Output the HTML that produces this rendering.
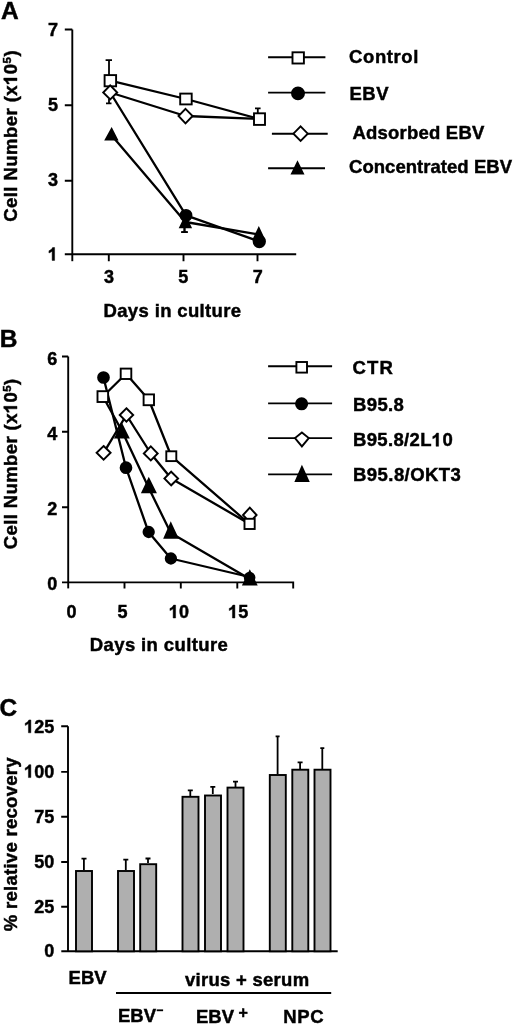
<!DOCTYPE html>
<html><head><meta charset="utf-8"><style>
html,body{margin:0;padding:0;background:#fff;width:520px;height:1025px;overflow:hidden}
svg{display:block}
text{font-family:"Liberation Sans",sans-serif;font-weight:bold;fill:#000;stroke:#000;stroke-width:0.45px}
svg{filter:grayscale(1) blur(0.35px)}
.h1{fill:transparent;stroke:none}
.g1{fill:#000;stroke:#000}
</style></head><body>
<svg width="520" height="1025" viewBox="0 0 520 1025">
<rect width="520" height="1025" fill="#fff"></rect>
<!-- ============ PANEL A ============ -->
<text x="1" y="18.6" font-size="24.5">A</text>
<g stroke="#000" stroke-width="1.9" fill="none">
  <path d="M72.3 29.5V261.2"></path>
  <path d="M64.8 29.5H72.3M64.8 105.2H72.3M64.8 180.8H72.3M64.8 254.3H296.2"></path>
  <path d="M108.8 254.3V261.2M183.5 254.3V261.2M257.5 254.3V261.2"></path>
</g>
<g font-size="18" text-anchor="end">
  <text x="58" y="36.3">7</text>
  <text x="58" y="111.3">5</text>
  <text x="58" y="186.4">3</text>
  <text x="58" y="260.4"><tspan class="h1">1</tspan></text><path d="M368 0H231V515Q156 445 54 411V535Q108 553 171 602Q234 650 257 716H368Z" class="g1" transform="translate(47.98,260.40) scale(0.0180,-0.0180)" stroke-width="25.0"></path>
</g>
<g font-size="18" text-anchor="middle">
  <text x="109" y="282.8">3</text>
  <text x="183.3" y="282.8">5</text>
  <text x="257.7" y="282.8">7</text>
</g>
<text x="103.5" y="317.3" font-size="18.5" textLength="137.6" lengthAdjust="spacing">Days in culture</text>
<text transform="translate(17,221.8) rotate(-90)" font-size="18.5" textLength="171.4" lengthAdjust="spacing">Cell Number (x<tspan class="h1">1</tspan>0<tspan font-size="11.5" dy="-6.3">5</tspan><tspan dy="6.3">)</tspan></text><path d="M368 0H231V515Q156 445 54 411V535Q108 553 171 602Q234 650 257 716H368Z" class="g1" transform="translate(17,221.8) rotate(-90) translate(136.89,0.00) scale(0.0185,-0.0185)" stroke-width="24.3"></path>
<!-- data lines A -->
<g stroke="#000" stroke-width="2.3" fill="none" stroke-linejoin="round">
  <polyline points="110.3,80.7 186,99 259.5,119"></polyline>
  <polyline points="110.2,92.5 185.5,116 259.5,119"></polyline>
  <polyline points="110.2,92.5 186,215.4 259.3,241.5"></polyline>
  <polyline points="111.3,135 185.4,222 258.8,234.5"></polyline>
</g>
<!-- error bars A -->
<g stroke="#000" stroke-width="1.8" fill="none">
  <path d="M109 75V60.2M105.6 60.2H112"></path>
  <path d="M109 99V103.3M106 103.3H111.5"></path>
  <path d="M184.5 226V232.1M181.3 232.1H187.7"></path>
  <path d="M257.8 113V108.3M255 108.3H260.6"></path>
</g>
<!-- markers A -->
<g stroke="#000" stroke-width="1.9">
  <rect x="104.6" y="75.1" width="11.5" height="11.2" fill="#fff"></rect>
  <path d="M110.2 85.4L117.2 92.5L110.2 99.4L103.2 92.5Z" fill="#fff"></path>
  <path d="M111.6 129L117 139.5H105.8Z" fill="#000"></path>
  <rect x="180.2" y="93.6" width="11.5" height="10.8" fill="#fff"></rect>
  <path d="M185.5 108.8L192.6 116L185.5 123.3L178.5 116Z" fill="#fff"></path>
  <path d="M185.4 216.5L190.6 227.4H180.2Z" fill="#000"></path>
  <circle cx="186" cy="215.4" r="5.5" fill="#000"></circle>
  <path d="M184.5 226V232M181.3 232.1H187.7" fill="none"></path>
  <rect x="254" y="113.3" width="11" height="11.6" fill="#fff"></rect>
  <path d="M258.8 228.2L264 239.3H253.6Z" fill="#000"></path>
  <circle cx="259.3" cy="241.5" r="5.7" fill="#000"></circle>
</g>
<!-- legend A -->
<g stroke="#000" stroke-width="1.9" fill="none">
  <path d="M268.1 57.3H325.4M268.1 92.6H325.4M271.9 133.7H327.7M268.1 168.3H325"></path>
</g>
<g stroke="#000" stroke-width="1.9">
  <rect x="292.5" y="52.3" width="11.4" height="11.2" fill="#fff"></rect>
  <circle cx="298" cy="93.4" r="6" fill="#000"></circle>
  <path d="M300.6 126.3L307.8 133.7L300.6 141L293.4 133.7Z" fill="#fff"></path>
  <path d="M297.5 162.3L303 173.6H292Z" fill="#000"></path>
</g>
<g font-size="18.5">
  <text x="349" y="62.7" textLength="69.4" lengthAdjust="spacing">Control</text>
  <text x="349.5" y="99.6" textLength="39" lengthAdjust="spacing">EBV</text>
  <text x="352.5" y="139.2" textLength="131.8" lengthAdjust="spacing">Adsorbed EBV</text>
  <text x="349" y="172.9" textLength="163" lengthAdjust="spacing">Concentrated EBV</text>
</g>

<!-- ============ PANEL B ============ -->
<text x="-0.3" y="346.6" font-size="24.5">B</text>
<g stroke="#000" stroke-width="1.9" fill="none">
  <path d="M68.2 356.5V588.4"></path>
  <path d="M62 356.5H68.2M62 431.8H68.2M62 507.2H68.2M62 582.4H293.2V588.4"></path>
  <path d="M124.5 582.4V588.4M180.8 582.4V588.4M237.3 582.4V588.4"></path>
</g>
<g font-size="18" text-anchor="end">
  <text x="57.3" y="364.6">6</text>
  <text x="57.3" y="440.4">4</text>
  <text x="57.3" y="515.4">2</text>
  <text x="57.3" y="589.6">0</text>
</g>
<g font-size="18" text-anchor="middle">
  <text x="71.6" y="618">0</text>
  <text x="122.6" y="618">5</text>
  <text x="179" y="618"><tspan class="h1">1</tspan>0</text><path d="M368 0H231V515Q156 445 54 411V535Q108 553 171 602Q234 650 257 716H368Z" class="g1" transform="translate(168.98,618.00) scale(0.0180,-0.0180)" stroke-width="25.0"></path>
  <text x="238.3" y="618"><tspan class="h1">1</tspan>5</text><path d="M368 0H231V515Q156 445 54 411V535Q108 553 171 602Q234 650 257 716H368Z" class="g1" transform="translate(228.28,618.00) scale(0.0180,-0.0180)" stroke-width="25.0"></path>
</g>
<text x="89.8" y="651.2" font-size="18.5" textLength="138" lengthAdjust="spacing">Days in culture</text>
<text transform="translate(17,549.2) rotate(-90)" font-size="18.5" textLength="170.4" lengthAdjust="spacing">Cell Number (x<tspan class="h1">1</tspan>0<tspan font-size="11.5" dy="-6.3">5</tspan><tspan dy="6.3">)</tspan></text><path d="M368 0H231V515Q156 445 54 411V535Q108 553 171 602Q234 650 257 716H368Z" class="g1" transform="translate(17,549.2) rotate(-90) translate(136.07,0.00) scale(0.0185,-0.0185)" stroke-width="24.3"></path>
<g stroke="#000" stroke-width="2.3" fill="none" stroke-linejoin="round">
  <polyline points="102.9,396.5 126,373.8 148.8,399.8 171.3,456.2 249.5,524"></polyline>
  <polyline points="103.5,377.5 126,467.7 148.5,532 170.8,558.5 249.5,577"></polyline>
  <polyline points="103.6,452.8 126.4,415 150.8,453.5 171.2,478.5 249.7,524"></polyline>
  <polyline points="102.9,396.5 122,431 148.8,488 170.8,533 249.8,579"></polyline>
</g>
<g stroke="#000" stroke-width="1.9">
  <circle cx="103.5" cy="377.5" r="5.4" fill="#000"></circle>
  <rect x="97.5" y="391.2" width="10.6" height="10.8" fill="#fff"></rect>
  <rect x="120.7" y="368.6" width="10.6" height="10.4" fill="#fff"></rect>
  <rect x="143.6" y="394.4" width="10.4" height="10.8" fill="#fff"></rect>
  <path d="M103.6 446L110.6 452.8L103.6 459.6L96.6 452.8Z" fill="#fff"></path>
  <path d="M122 425L128.3 437.5H115.5Z" fill="#000"></path>
  <path d="M126.4 408.3L133.2 415L126.4 421.7L119.7 415Z" fill="#fff"></path>
  <circle cx="126" cy="467.7" r="5.4" fill="#000"></circle>
  <path d="M150.8 446.4L157.7 453.5L150.8 460.4L143.8 453.5Z" fill="#fff"></path>
  <path d="M148.8 479L155.4 492.3H142.4Z" fill="#000"></path>
  <circle cx="148.7" cy="532" r="5.2" fill="#000"></circle>
  <rect x="166.3" y="451.3" width="10" height="9.8" fill="#fff"></rect>
  <path d="M171.2 471.7L178.1 478.5L171.2 485.3L164.4 478.5Z" fill="#fff"></path>
  <path d="M170.8 523.6L177.4 537.8H164.6Z" fill="#000"></path>
  <circle cx="170.9" cy="558.5" r="5.2" fill="#000"></circle>
  <path d="M249.8 507.6L256.6 515L249.8 522.4L243 515Z" fill="#fff"></path>
  <rect x="244.5" y="518.8" width="10.2" height="10.2" fill="#fff"></rect>
  <path d="M249.8 571.5L256.2 584.6H243.4Z" fill="#000"></path>
  <circle cx="249.6" cy="577.6" r="4.9" fill="#000"></circle>
</g>
<!-- legend B -->
<g stroke="#000" stroke-width="1.9" fill="none">
  <path d="M268.1 366.2H332.1M268.1 403.4H332.1M268.1 438.1H332.1M268.1 474.4H332.1"></path>
</g>
<g stroke="#000" stroke-width="1.9">
  <rect x="296.4" y="362" width="10.6" height="10.6" fill="#fff"></rect>
  <circle cx="301.6" cy="403.8" r="5.6" fill="#000"></circle>
  <path d="M301.9 432.4L308.8 438.1L301.9 446.4L295 438.1Z" fill="#fff"></path>
  <path d="M301.9 467L308.3 481H295.8Z" fill="#000"></path>
</g>
<g font-size="18.5">
  <text x="352.6" y="373.8" textLength="40.2" lengthAdjust="spacing">CTR</text>
  <text x="353" y="410.5" textLength="50.9" lengthAdjust="spacing">B95.8</text>
  <text x="353" y="446.3" textLength="99.7" lengthAdjust="spacing">B95.8/2L<tspan class="h1">1</tspan>0</text><path d="M368 0H231V515Q156 445 54 411V535Q108 553 171 602Q234 650 257 716H368Z" class="g1" transform="translate(431.78,446.30) scale(0.0185,-0.0185)" stroke-width="24.3"></path>
  <text x="353" y="480.5" textLength="107.9" lengthAdjust="spacing">B95.8/OKT3</text>
</g>

<!-- ============ PANEL C ============ -->
<text x="-0.5" y="716" font-size="24.5">C</text>
<g stroke="#000" stroke-width="1.9" fill="none">
  <path d="M68 726.3V951.3"></path>
  <path d="M61.2 726.3H68M61.2 771.9H68M61.2 816.7H68M61.2 862H68M61.2 906.8H68M61.3 951.3H337.7"></path>
</g>
<g font-size="18" text-anchor="end">
  <text x="54.3" y="732.8"><tspan class="h1">1</tspan>25</text><path d="M368 0H231V515Q156 445 54 411V535Q108 553 171 602Q234 650 257 716H368Z" class="g1" transform="translate(24.25,732.80) scale(0.0180,-0.0180)" stroke-width="25.0"></path>
  <text x="54.3" y="777.6"><tspan class="h1">1</tspan>00</text><path d="M368 0H231V515Q156 445 54 411V535Q108 553 171 602Q234 650 257 716H368Z" class="g1" transform="translate(24.25,777.60) scale(0.0180,-0.0180)" stroke-width="25.0"></path>
  <text x="54.3" y="822.8">75</text>
  <text x="54.3" y="867.9">50</text>
  <text x="54.3" y="912.8">25</text>
  <text x="54.3" y="957.3">0</text>
</g>
<text transform="translate(17,931.2) rotate(-90)" font-size="18.5" textLength="173.8" lengthAdjust="spacing">% relative recovery</text>
<!-- bars -->
<g stroke="#000" stroke-width="1.9" fill="#afafaf">
  <rect x="76" y="871" width="16" height="80.3"></rect>
  <rect x="118" y="871" width="16" height="80.3"></rect>
  <rect x="140.2" y="864.2" width="16" height="87.1"></rect>
  <rect x="182.5" y="796.8" width="16" height="154.5"></rect>
  <rect x="205" y="795.5" width="16" height="155.8"></rect>
  <rect x="227.5" y="787.6" width="16" height="163.7"></rect>
  <rect x="269.8" y="775" width="16" height="176.3"></rect>
  <rect x="292.3" y="769.7" width="16" height="181.6"></rect>
  <rect x="314.5" y="769.7" width="16" height="181.6"></rect>
</g>
<g stroke="#000" stroke-width="1.8" fill="none">
  <path d="M83.9 870V858.6M81.5 858.6H86.5"></path>
  <path d="M125.8 870V859.7M123.3 859.7H128.3"></path>
  <path d="M148 863V858.5M145.5 858.5H150.5"></path>
  <path d="M190.3 796V790.3M187.8 790.3H192.8"></path>
  <path d="M212.8 794V786.8M210.3 786.8H215.3"></path>
  <path d="M235.5 787V781.6M233 781.6H238"></path>
  <path d="M277.6 774V736.3M275.6 736.3H279.6"></path>
  <path d="M300.1 769V762.3M297.6 762.3H302.6"></path>
  <path d="M322.3 769V748.1M320.3 748.1H324.3"></path>
</g>
<path d="M116 993H331.2" stroke="#000" stroke-width="1.8"></path>
<g font-size="18.5">
  <text x="68.6" y="984.4">EBV</text>
  <text x="185" y="985.6" textLength="124.1" lengthAdjust="spacing">virus + serum</text>
  <text x="118" y="1022.3">EBV</text>
  <text x="196" y="1023">EBV</text>
  <text x="283.2" y="1023" textLength="40.4" lengthAdjust="spacing">NPC</text>
</g>
<path d="M156.7 1010.3H163.1" stroke="#000" stroke-width="1.8"></path>
<text x="238.6" y="1018.2" font-size="16">+</text>
</svg>

</body></html>
